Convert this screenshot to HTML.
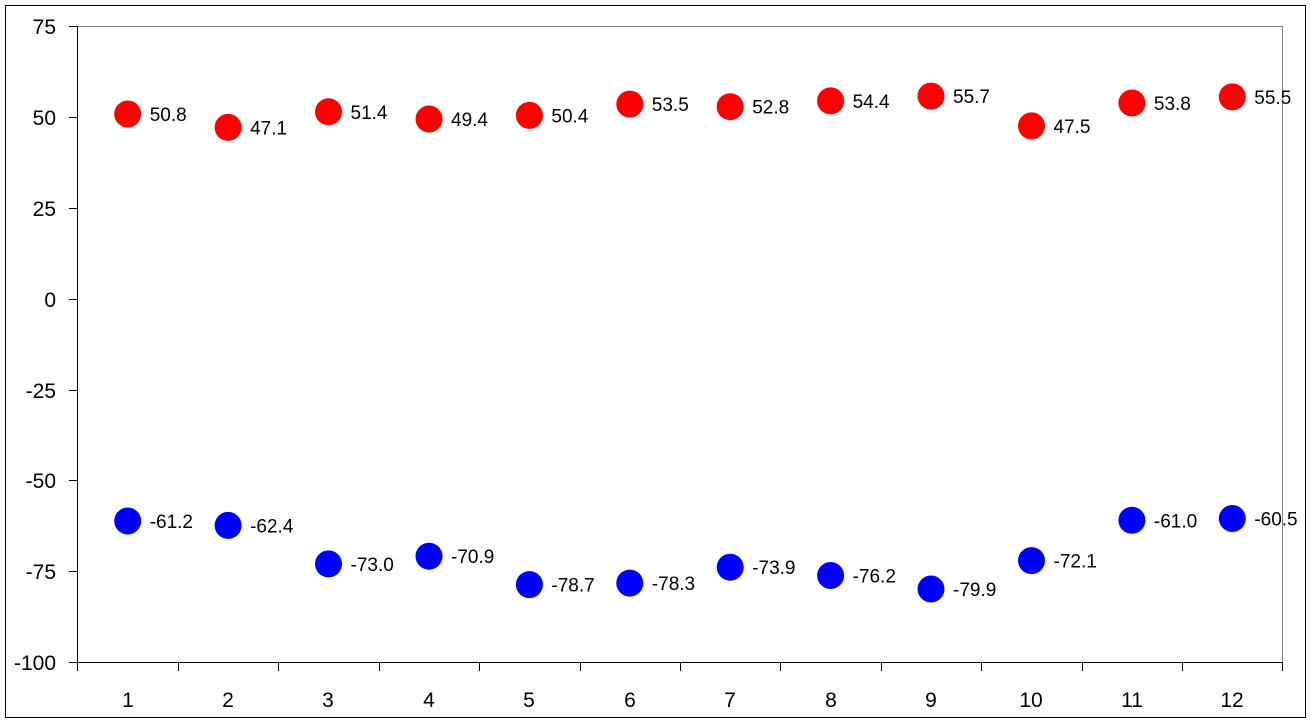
<!DOCTYPE html>
<html><head><meta charset="utf-8"><style>
html,body{margin:0;padding:0;background:#fff;}
svg{display:block;}
text{font-family:"Liberation Sans",Arial,sans-serif;fill:#000;}
.ax{font-size:21px;}
.dl{font-size:19px;}
</style></head><body>
<svg width="1311" height="723" viewBox="0 0 1311 723" xmlns="http://www.w3.org/2000/svg">
<rect x="5.5" y="5.5" width="1300" height="712" fill="#fff" stroke="#000" stroke-width="1"/>
<rect x="77.5" y="26.5" width="1205" height="636" fill="none" stroke="#808080" stroke-width="1"/>
<line x1="77.5" y1="26" x2="77.5" y2="671" stroke="#000"/>
<line x1="69" y1="662.5" x2="1283" y2="662.5" stroke="#000"/>
<g stroke="#000">
<line x1="69" y1="26.5" x2="77" y2="26.5"/>
<line x1="69" y1="117.5" x2="77" y2="117.5"/>
<line x1="69" y1="208.5" x2="77" y2="208.5"/>
<line x1="69" y1="299.5" x2="77" y2="299.5"/>
<line x1="69" y1="390.5" x2="77" y2="390.5"/>
<line x1="69" y1="480.5" x2="77" y2="480.5"/>
<line x1="69" y1="571.5" x2="77" y2="571.5"/>
<line x1="178.5" y1="662" x2="178.5" y2="671"/>
<line x1="278.5" y1="662" x2="278.5" y2="671"/>
<line x1="379.5" y1="662" x2="379.5" y2="671"/>
<line x1="479.5" y1="662" x2="479.5" y2="671"/>
<line x1="580.5" y1="662" x2="580.5" y2="671"/>
<line x1="680.5" y1="662" x2="680.5" y2="671"/>
<line x1="780.5" y1="662" x2="780.5" y2="671"/>
<line x1="881.5" y1="662" x2="881.5" y2="671"/>
<line x1="981.5" y1="662" x2="981.5" y2="671"/>
<line x1="1082.5" y1="662" x2="1082.5" y2="671"/>
<line x1="1182.5" y1="662" x2="1182.5" y2="671"/>
<line x1="1282.5" y1="662" x2="1282.5" y2="671"/>
</g>
<g class="ax" text-anchor="end">
<text x="56" y="34">75</text>
<text x="56" y="125">50</text>
<text x="56" y="216">25</text>
<text x="56" y="307">0</text>
<text x="56" y="398">-25</text>
<text x="56" y="488">-50</text>
<text x="56" y="579">-75</text>
<text x="56" y="670">-100</text>
</g>
<g class="ax" text-anchor="middle">
<text x="128" y="707">1</text><text x="228" y="707">2</text><text x="328" y="707">3</text>
<text x="429" y="707">4</text><text x="529" y="707">5</text><text x="630" y="707">6</text>
<text x="730" y="707">7</text><text x="831" y="707">8</text><text x="931" y="707">9</text>
<text x="1031" y="707">10</text><text x="1132" y="707">11</text><text x="1232" y="707">12</text>
</g>
<g fill="#ff0000">
<circle cx="127.7" cy="114.0" r="13.5"/>
<circle cx="228.1" cy="127.4" r="13.5"/>
<circle cx="328.5" cy="111.8" r="13.5"/>
<circle cx="429.0" cy="119.0" r="13.5"/>
<circle cx="529.4" cy="115.4" r="13.5"/>
<circle cx="629.8" cy="104.1" r="13.5"/>
<circle cx="730.2" cy="106.7" r="13.5"/>
<circle cx="830.6" cy="100.9" r="13.5"/>
<circle cx="931.0" cy="96.1" r="13.5"/>
<circle cx="1031.5" cy="125.9" r="13.5"/>
<circle cx="1131.9" cy="103.0" r="13.5"/>
<circle cx="1232.3" cy="96.9" r="13.5"/>
</g>
<g fill="#0000ff">
<circle cx="127.7" cy="521.0" r="13.5"/>
<circle cx="228.1" cy="525.4" r="13.5"/>
<circle cx="328.5" cy="563.9" r="13.5"/>
<circle cx="429.0" cy="556.2" r="13.5"/>
<circle cx="529.4" cy="584.6" r="13.5"/>
<circle cx="629.8" cy="583.1" r="13.5"/>
<circle cx="730.2" cy="567.2" r="13.5"/>
<circle cx="830.6" cy="575.5" r="13.5"/>
<circle cx="931.0" cy="589.0" r="13.5"/>
<circle cx="1031.5" cy="560.6" r="13.5"/>
<circle cx="1131.9" cy="520.3" r="13.5"/>
<circle cx="1232.3" cy="518.5" r="13.5"/>
</g>
<g class="dl">
<text x="149.7" y="121.0">50.8</text>
<text x="250.1" y="134.4">47.1</text>
<text x="350.5" y="118.8">51.4</text>
<text x="451.0" y="126.0">49.4</text>
<text x="551.4" y="122.4">50.4</text>
<text x="651.8" y="111.1">53.5</text>
<text x="752.2" y="113.7">52.8</text>
<text x="852.6" y="107.9">54.4</text>
<text x="953.0" y="103.1">55.7</text>
<text x="1053.5" y="132.9">47.5</text>
<text x="1153.9" y="110.0">53.8</text>
<text x="1254.3" y="103.9">55.5</text>
<text x="149.7" y="528.0">-61.2</text>
<text x="250.1" y="532.4">-62.4</text>
<text x="350.5" y="570.9">-73.0</text>
<text x="451.0" y="563.2">-70.9</text>
<text x="551.4" y="591.6">-78.7</text>
<text x="651.8" y="590.1">-78.3</text>
<text x="752.2" y="574.2">-73.9</text>
<text x="852.6" y="582.5">-76.2</text>
<text x="953.0" y="596.0">-79.9</text>
<text x="1053.5" y="567.6">-72.1</text>
<text x="1153.9" y="527.3">-61.0</text>
<text x="1254.3" y="525.5">-60.5</text>
</g>
</svg>
</body></html>
